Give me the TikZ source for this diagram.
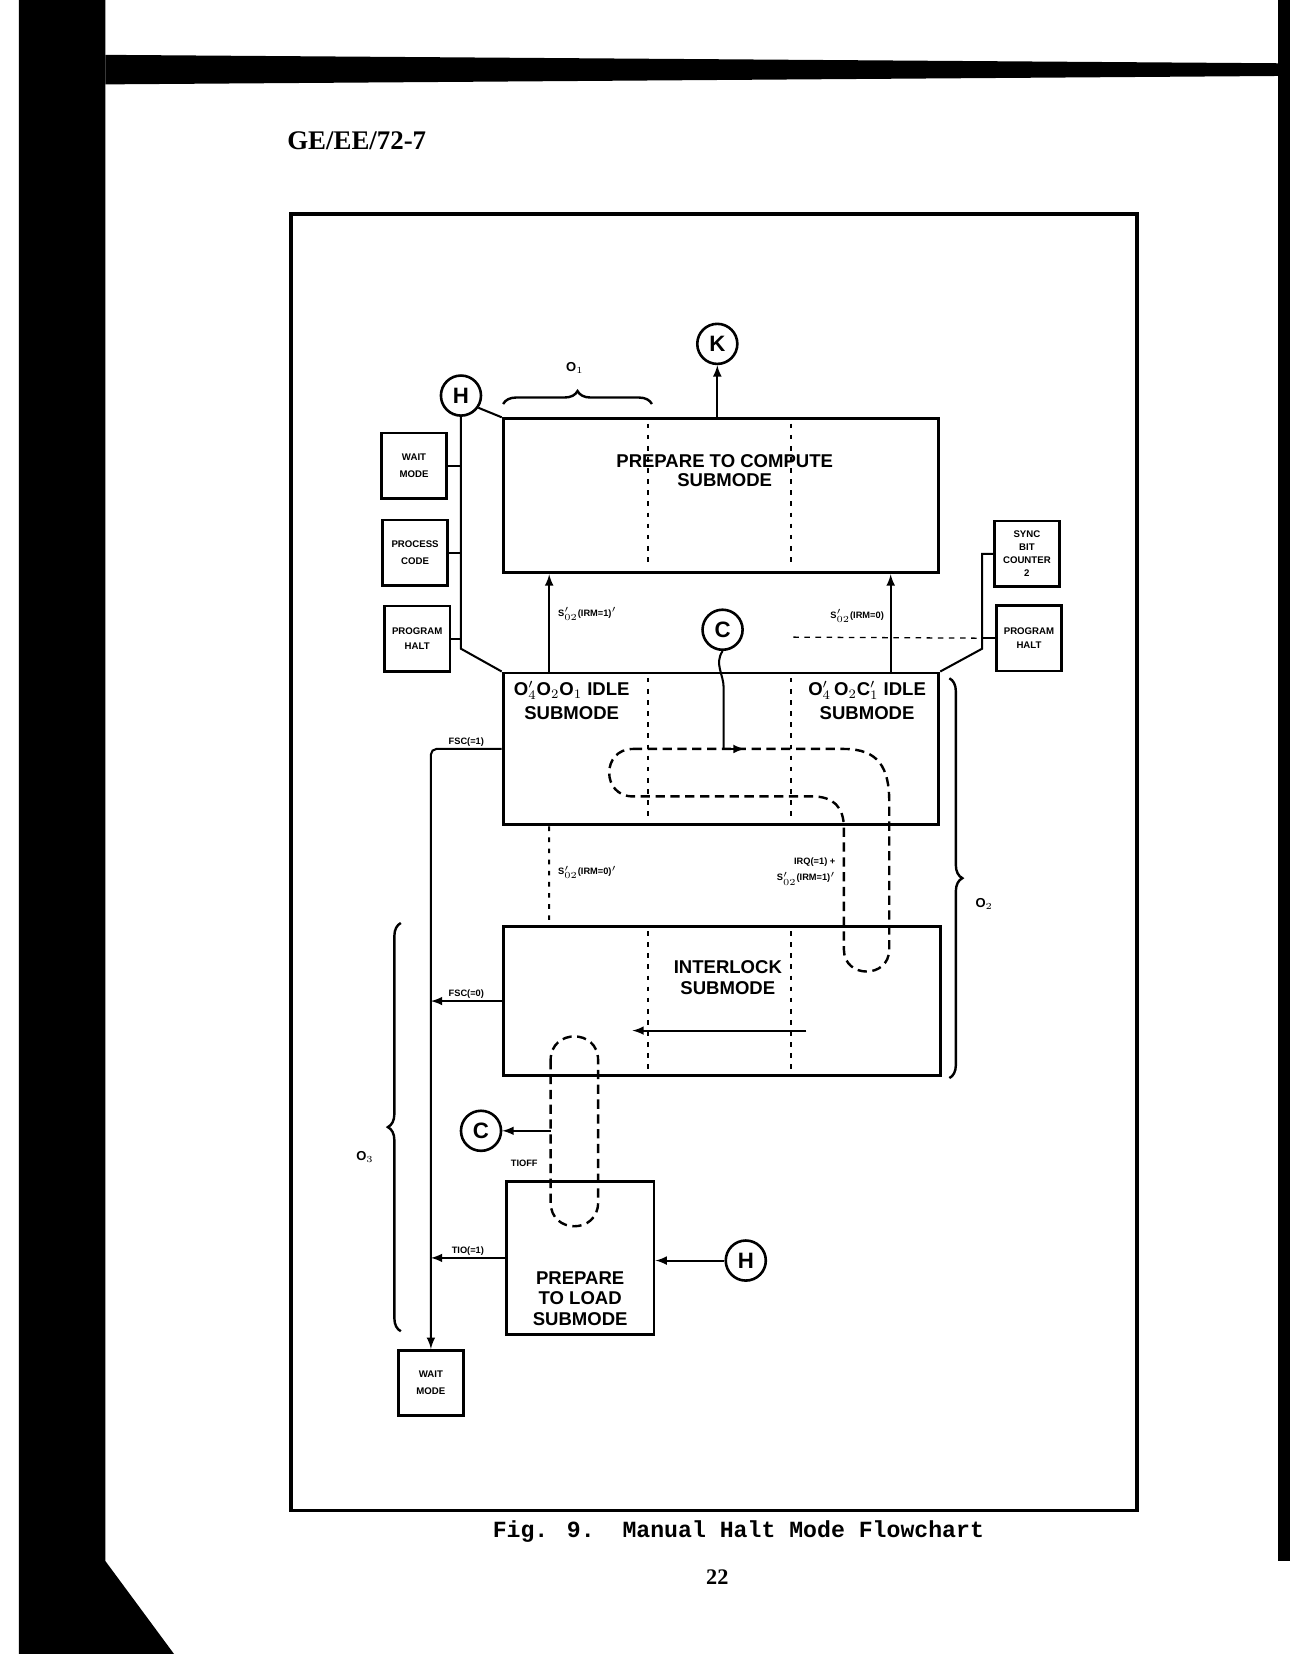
\documentclass[tikz,border=0pt]{standalone}
\usepackage{amsmath}
\usepackage{fontspec}
\setsansfont{Liberation Sans}
\newfontfamily\capfont{Liberation Mono}
\newfontfamily\headfont{Liberation Serif}
\usetikzlibrary{arrows,calc,decorations.pathreplacing}

\begin{document}
\begin{tikzpicture}[
				x=0.02cm, y=-0.02cm,
				box style/.style={
					draw,
					line width=1.6pt,
					inner sep=0pt,
					fill=none
				},
				text style/.style={
					align=center,
					inner sep=0pt,
					font=\sffamily\bfseries\fontsize{10}{10.5}\selectfont
				},
				small style/.style={
					draw,
					line width=1.4pt,
					align=center,
					inner sep=0pt,
					minimum width=1.24cm,
					minimum height=1.24cm,
					font=\sffamily\bfseries\fontsize{5.2}{9}\selectfont
				},
				conn style/.style={
					draw, circle,
					line width=1.4pt,
					minimum size=0.76cm,
					inner sep=0pt,
					font=\sffamily\bfseries\fontsize{12}{12}\selectfont
				},
				lab style/.style={
					inner sep=1pt,
					font=\sffamily\bfseries\fontsize{5}{6}\selectfont
				},
				line style/.style={line width=1.1pt},
				part style/.style={line width=1.1pt, dash pattern=on 2.5pt off 3.5pt},
				loop style/.style={line width=1.3pt, dash pattern=on 5pt off 3pt},
				brace style/.style={decorate, decoration={brace, amplitude=7pt}, line width=1.3pt},
				>=latex
				]
				
				\useasboundingbox (0,0) rectangle (1238,1568);
				\fill[white] (0,0) rectangle (1238,1568);
				
				% scanned page edges
				\fill[black] (18,0) -- (100,0) -- (100,1480) -- (165,1568) -- (18,1568) -- cycle;
				\fill[black] (100,52) -- (1215,60) -- (1215,72) -- (100,80) -- cycle;
				\fill[black] (1212,0) rectangle (1223,1480);
				
				\node[anchor=west, inner sep=0pt, font=\headfont\bfseries\fontsize{14.5}{14.5}\selectfont] (report) at (272,133) {GE/EE/72-7};
				\draw[line width=2pt] (276,203) rectangle (1078,1432);
				
				% submode boxes
				\node[box style, minimum width=8.26cm, minimum height=2.92cm] (compute) at (683.5,470) {};
				\node[box style, minimum width=8.26cm, minimum height=2.88cm] (idle) at (683.5,710) {};
				\node[box style, minimum width=8.30cm, minimum height=2.84cm] (interlock) at (684.5,949) {};
				\node[box style, minimum width=2.80cm, minimum height=2.90cm] (load) at (550,1192.5) {};
				
				\node[text style] (computetext) at (687,446) {PREPARE TO COMPUTE\\SUBMODE};
				\node[text style, font=\sffamily\bfseries\fontsize{10}{13}\selectfont] (idleleft) at (542,664) {O$'_4$O$_2$O$_1$ IDLE\\SUBMODE};
				\node[text style, font=\sffamily\bfseries\fontsize{10}{13}\selectfont] (idleright) at (822,664) {O$'_4\,$O$_2$C$'_1$ IDLE\\SUBMODE};
				\node[text style, font=\sffamily\bfseries\fontsize{10}{11.5}\selectfont] (interlocktext) at (690,927) {INTERLOCK\\SUBMODE};
				\node[text style, font=\sffamily\bfseries\fontsize{10}{11}\selectfont] (loadtext) at (550,1231) {PREPARE\\TO LOAD\\SUBMODE};
				
				\foreach \b in {compute, idle, interlock}
				\foreach \dx in {2.78cm, 5.48cm}
				\draw[part style] ([xshift=\dx, yshift=-0.12cm]\b.north west) -- ([xshift=\dx, yshift=0.12cm]\b.south west);
				
				% side boxes
				\node[small style] (wait1) at (392.5,441.5) {WAIT\\MODE};
				\node[small style] (process) at (393.5,524) {PROCESS\\CODE};
				\node[small style, font=\sffamily\bfseries\fontsize{5.2}{8}\selectfont] (halt1) at (395.5,605.5) {PROGRAM\\HALT};
				\node[small style, font=\sffamily\bfseries\fontsize{5.2}{7}\selectfont] (sync) at (973.5,525) {SYNC\\BIT\\COUNTER\\2};
				\node[small style, font=\sffamily\bfseries\fontsize{5.2}{8}\selectfont] (halt2) at (975.5,605) {PROGRAM\\HALT};
				\node[small style] (waitlow) at (408.5,1311) {WAIT\\MODE};
				
				% connectors
				\node[conn style] (kout) at (680,326) {K};
				\node[conn style] (hup) at (437,375) {H};
				\node[conn style] (ctop) at (685,597) {C};
				\node[conn style] (cbot) at (456,1072) {C};
				\node[conn style] (hlow) at (707,1195) {H};
				
				\draw[line style, ->] (compute.north -| kout) -- (kout.south);
				
				\coordinate (lbend) at (437,615);
				\draw[line style] (hup.south) -- (lbend) -- (idle.north west);
				\draw[line style] (hup.-35) -- (compute.north west);
				\foreach \s in {wait1, process, halt1}
				\draw[line style] (\s.east) -- (\s.east -| lbend);
				
				\coordinate (rbend) at (931,615);
				\draw[line style] (sync.west) -- (sync.west -| rbend) -- (rbend) -- (idle.north east);
				\draw[line style] (halt2.west) -- (halt2.west -| rbend);
				\coordinate (fade) at (752,604);
				\draw[line width=0.7pt, dashed] (fade) -- (halt2.west -| rbend);
				
				\draw[line style, ->] ([xshift=0.9cm]idle.north west) -- ([xshift=0.9cm]compute.south west);
				\draw[line style, ->] ([xshift=-0.94cm]idle.north east) -- ([xshift=-0.94cm]compute.south east);
				\draw[part style] ([xshift=0.9cm]idle.south west) -- ([xshift=0.9cm]interlock.north west);
				
				\node[lab style, anchor=west] (supleft) at (527,582) {S$'_{02}$(IRM=1)$'$};
				\node[lab style, anchor=east] (supright) at (840,584) {S$'_{02}$(IRM=0)};
				\node[lab style, anchor=west] (sdownleft) at (527,827) {S$'_{02}$(IRM=0)$'$};
				\node[lab style, anchor=east, align=right, font=\sffamily\bfseries\fontsize{5}{9}\selectfont] (sdownright) at (794,826) {IRQ(=1) +\\S$'_{02}$(IRM=1)$'$};
				
				% paths of the idle loop
				\coordinate (cjoin) at (686,710);
				\draw[loop style] (600,710) -- (800,710) .. controls (833,710) and (843,728) .. (843,760) -- (843,900) .. controls (843,928) and (800,928) .. (800,900) -- (800,785) .. controls (800,765) and (790,755) .. (770,755) -- (600,755) .. controls (570,755) and (570,710) .. (600,710);
				\draw[line style] (ctop.south) .. controls +(-8,12) and +(0,-12) .. ([yshift=-0.3cm]cjoin |- idle.north) -- (cjoin);
				\draw[line style, ->] (cjoin) -- ++(20,0);
				
				\draw[line style, ->] ([shift={(80,28)}]interlock.center) -- ([shift={(-85,28)}]interlock.center);
				
				% paths of the load loop
				\coordinate (cjoin2) at (522,1072);
				\draw[loop style] (522,1005) -- (522,1140) .. controls (522,1170) and (567,1170) .. (567,1140) -- (567,1005) .. controls (567,975) and (522,975) .. (522,1005);
				\draw[line style, ->] (cjoin2) -- (cbot.east);
				\node[lab style] (tioff) at (497,1103) {TIOFF};
				\draw[line style, ->] (hlow.west) -- (hlow.west -| load.east);
				
				% exits to wait mode
				\draw[line style, ->, rounded corners=3pt] (idle.west) -- node[lab style, above] (fsc1) {FSC(=1)} (idle.west -| waitlow) -- (waitlow.north);
				\draw[line style, ->] (interlock.west) -- node[lab style, above] (fsc0) {FSC(=0)} (interlock.west -| waitlow);
				\draw[line style, ->] (load.west) -- node[lab style, above] (tio1) {TIO(=1)} (load.west -| waitlow);
				
				% braces
				\draw[brace style] (477,383) -- (618,383);
				\node[lab style, font=\sffamily\bfseries\fontsize{7}{7}\selectfont] (o1) at (545,349) {O$_1$};
				\draw[brace style] (900,643) -- (900,1022);
				\node[lab style, font=\sffamily\bfseries\fontsize{7}{7}\selectfont] (o2) at (933,857) {O$_2$};
				\draw[brace style] (380,1262) -- (380,875);
				\node[lab style, font=\sffamily\bfseries\fontsize{7}{7}\selectfont] (o3) at (346,1097) {O$_3$};
				
				\node[font=\capfont\bfseries\fontsize{12.5}{12.5}\selectfont] (caption) at (700,1452) {Fig. 9.\ \ Manual Halt Mode Flowchart};
				\node[font=\headfont\bfseries\fontsize{12}{12}\selectfont] (pagenum) at (680,1495) {22};
				
			\end{tikzpicture}
\end{document}
